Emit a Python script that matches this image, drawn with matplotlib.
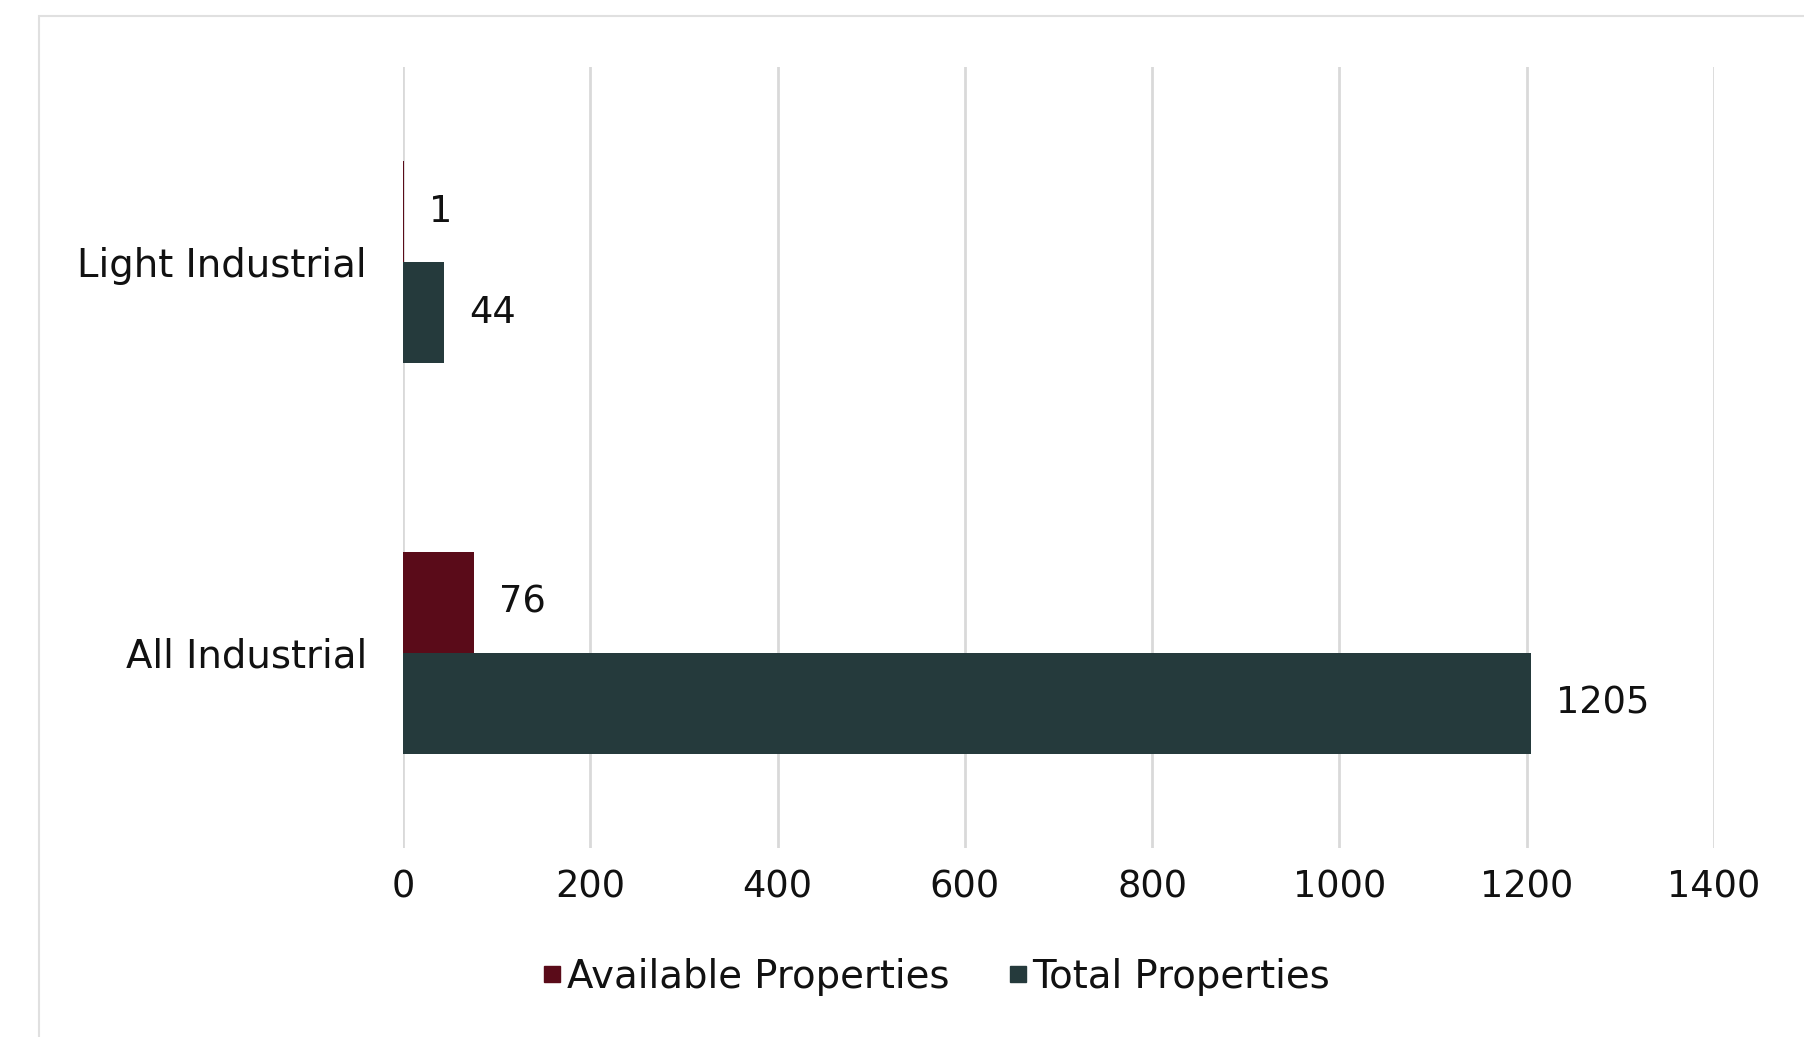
import matplotlib
matplotlib.use("Agg")
import matplotlib.pyplot as plt
from matplotlib.lines import Line2D
from matplotlib.patches import Rectangle
import numpy as np

categories = ["All Industrial", "Light Industrial"]
available = [76, 1]
total = [1205, 44]
series_names = ["Available Properties", "Total Properties"]
xticks = [0, 200, 400, 600, 800, 1000, 1200, 1400]

c_avail = "#5a0b19"
c_total = "#253a3c"
txt = "#111111"
FONT = "DejaVu Sans"
FS_TXT = 27.8
FS_NUM = 26.5

plt.rcParams["font.family"] = [FONT]

W, H = 1804, 1037
fig = plt.figure(figsize=(W / 100, H / 100), dpi=100)
fig.patch.set_facecolor("white")

# outer faint frame
fig.add_artist(Rectangle((39 / W, -0.02), 1.1, 1 - 16 / H + 0.02, transform=fig.transFigure,
                         fill=False, edgecolor="#e0e0e0", linewidth=1.5))

ax = fig.add_axes([403 / W, 1 - 848 / H, (1714 - 403) / W, (848 - 67) / H])
y = np.arange(len(categories))
h = 0.259
b1 = ax.barh(y + h / 2, available, height=h, color=c_avail, label=series_names[0], zorder=3)
b2 = ax.barh(y - h / 2, total, height=h, color=c_total, label=series_names[1], zorder=3)

ax.bar_label(b1, labels=[str(v) for v in available], padding=18, fontsize=FS_NUM, color=txt)
ax.bar_label(b2, labels=[str(v) for v in total], padding=18, fontsize=FS_NUM, color=txt)

ax.set_xlim(0, 1400)
ax.set_ylim(-0.5, 1.5)
ax.set_xticks(xticks)
ax.set_xticklabels([str(t) for t in xticks], fontsize=FS_NUM, color=txt)
ax.set_yticks(y)
ax.set_yticklabels(categories, fontsize=FS_TXT, color=txt)
ax.tick_params(axis="both", length=0)
ax.tick_params(axis="x", pad=15)
ax.tick_params(axis="y", pad=26)
for s in ax.spines.values():
    s.set_visible(False)
ax.grid(axis="x", color="#d9d9d9", linewidth=2, zorder=0)
ax.set_axisbelow(True)

handles = [Line2D([], [], marker="s", linestyle="none", markersize=11, color=c_avail),
           Line2D([], [], marker="s", linestyle="none", markersize=11, color=c_total)]
fig.legend(handles, series_names, loc="center", bbox_to_anchor=(936 / W, 1 - 977 / H),
           ncol=2, frameon=False, fontsize=FS_TXT, handlelength=0.55, handletextpad=0.1,
           columnspacing=1.5, labelcolor=txt)

fig.savefig("out.png", dpi=100, facecolor="white")
